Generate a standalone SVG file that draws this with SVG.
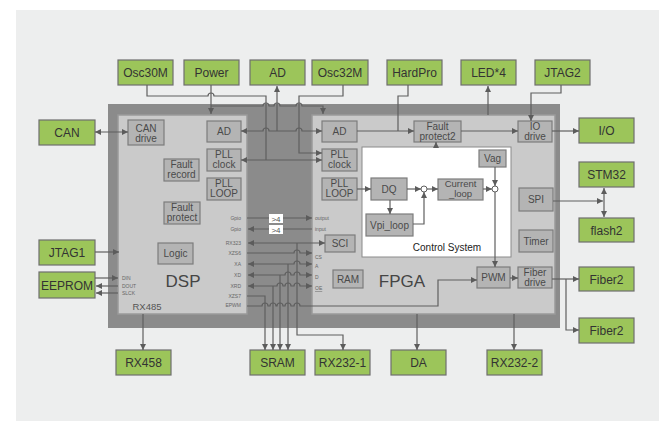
<svg xmlns="http://www.w3.org/2000/svg" width="659" height="421" viewBox="0 0 659 421">
<defs>
<marker id="ah" viewBox="0 0 6 6" refX="6" refY="3" markerWidth="6" markerHeight="6" markerUnits="userSpaceOnUse" orient="auto-start-reverse">
<path d="M0,0 L6,3 L0,6 Z" fill="#5c5c5c"/>
</marker>
<style>
.g{fill:#9CC55A;stroke:#6E6E6E;stroke-width:1.2}
.gt{font-family:"Liberation Sans",Arial,sans-serif;font-size:12px;fill:#333;text-anchor:middle}
.b{fill:#B4B4B4;stroke:#7C7C7C;stroke-width:1.2}
.bt{font-family:"Liberation Sans",Arial,sans-serif;font-size:10px;fill:#4A4A4A;text-anchor:middle}
.sl{font-family:"Liberation Sans",Arial,sans-serif;font-size:5px;fill:#666}
.ln{stroke:#5F5F5F;stroke-width:1.2;fill:none}
.a{marker-end:url(#ah)}
.aa{marker-start:url(#ah);marker-end:url(#ah)}
.big{font-family:"Liberation Sans",Arial,sans-serif;font-size:17px;fill:#454545;text-anchor:middle}
</style>
</defs>
<rect x="0" y="0" width="659" height="421" fill="#FFFFFF"/>
<rect x="16" y="10" width="643" height="411" fill="#EDEEEE"/>
<g id="frame">
<rect x="108" y="104" width="452" height="224" fill="#8B8B8B"/>
</g>
<g id="dsp">
<rect x="118" y="115" width="129" height="199" fill="#CACACA" stroke="#9A9A9A" stroke-width="1.5"/>
<text class="big" x="183" y="287">DSP</text>
<text class="bt" x="147" y="310" style="font-size:9.5px;fill:#555">RX485</text>
</g>
<g id="fpga">
<rect x="312" y="115" width="243" height="199" fill="#CACACA" stroke="#9A9A9A" stroke-width="1.5"/>
<text class="big" x="402" y="287">FPGA</text>
</g>
<g id="control-system">
<rect x="362" y="147" width="149" height="110" fill="#FFFFFF" stroke="#8A8A8A" stroke-width="1"/>
<text class="bt" x="447" y="251" style="fill:#222">Control System</text>
</g>

<g id="osc30m"><rect class="g" x="118" y="60" width="55" height="25"/><text class="gt" x="145.5" y="77">Osc30M</text></g>
<g id="power"><rect class="g" x="184" y="60" width="55" height="25"/><text class="gt" x="211.5" y="77">Power</text></g>
<g id="ad-top"><rect class="g" x="250" y="60" width="55" height="25"/><text class="gt" x="277.5" y="77">AD</text></g>
<g id="osc32m"><rect class="g" x="312" y="60" width="56" height="25"/><text class="gt" x="340" y="77">Osc32M</text></g>
<g id="hardpro"><rect class="g" x="387" y="60" width="55" height="25"/><text class="gt" x="414.5" y="77">HardPro</text></g>
<g id="led4"><rect class="g" x="461" y="60" width="55" height="25"/><text class="gt" x="488.5" y="77">LED*4</text></g>
<g id="jtag2"><rect class="g" x="535" y="60" width="55" height="25"/><text class="gt" x="562.5" y="77">JTAG2</text></g>
<g id="can"><rect class="g" x="39" y="120" width="56" height="25"/><text class="gt" x="67" y="137">CAN</text></g>
<g id="jtag1"><rect class="g" x="39" y="240" width="56" height="25"/><text class="gt" x="67" y="257">JTAG1</text></g>
<g id="eeprom"><rect class="g" x="39" y="272" width="56" height="26"/><text class="gt" x="67" y="289.5">EEPROM</text></g>
<g id="io"><rect class="g" x="579" y="118" width="55" height="25"/><text class="gt" x="606.5" y="135">I/O</text></g>
<g id="stm32"><rect class="g" x="579" y="162" width="55" height="25"/><text class="gt" x="606.5" y="179">STM32</text></g>
<g id="flash2"><rect class="g" x="579" y="218" width="55" height="24"/><text class="gt" x="606.5" y="234.5">flash2</text></g>
<g id="fiber2a"><rect class="g" x="579" y="267" width="55" height="24"/><text class="gt" x="606.5" y="283.5">Fiber2</text></g>
<g id="fiber2b"><rect class="g" x="579" y="318" width="55" height="25"/><text class="gt" x="606.5" y="335">Fiber2</text></g>
<g id="rx458"><rect class="g" x="116" y="350" width="55" height="25"/><text class="gt" x="143.5" y="367">RX458</text></g>
<g id="sram"><rect class="g" x="250" y="350" width="55" height="25"/><text class="gt" x="277.5" y="367">SRAM</text></g>
<g id="rx232-1"><rect class="g" x="315" y="350" width="55" height="25"/><text class="gt" x="342.5" y="367">RX232-1</text></g>
<g id="da"><rect class="g" x="391" y="350" width="55" height="25"/><text class="gt" x="418.5" y="367">DA</text></g>
<g id="rx232-2"><rect class="g" x="487" y="350" width="55" height="25"/><text class="gt" x="514.5" y="367">RX232-2</text></g>

<g id="can-drive"><rect class="b" x="128" y="120" width="36" height="25"/><text class="bt" x="146" y="131.5">CAN</text><text class="bt" x="146" y="141.5">drive</text></g>
<g id="dsp-ad"><rect class="b" x="207" y="121" width="34" height="21"/><text class="bt" x="224" y="135">AD</text></g>
<g id="dsp-pll-clock"><rect class="b" x="207" y="149" width="34" height="22"/><text class="bt" x="224" y="158">PLL</text><text class="bt" x="224" y="168">clock</text></g>
<g id="dsp-pll-loop"><rect class="b" x="207" y="178" width="34" height="22"/><text class="bt" x="224" y="187">PLL</text><text class="bt" x="224" y="197">LOOP</text></g>
<g id="fault-record"><rect class="b" x="164" y="159" width="35" height="22"/><text class="bt" x="181.5" y="168">Fault</text><text class="bt" x="181.5" y="178">record</text></g>
<g id="fault-protect"><rect class="b" x="164" y="202" width="36" height="22"/><text class="bt" x="182" y="211">Fault</text><text class="bt" x="182" y="221">protect</text></g>
<g id="logic"><rect class="b" x="158" y="243" width="35" height="21"/><text class="bt" x="175.5" y="257">Logic</text></g>

<g id="fpga-ad"><rect class="b" x="322" y="121" width="35" height="21"/><text class="bt" x="339.5" y="135">AD</text></g>
<g id="fpga-pll-clock"><rect class="b" x="322" y="149" width="35" height="22"/><text class="bt" x="339.5" y="158">PLL</text><text class="bt" x="339.5" y="168">clock</text></g>
<g id="fpga-pll-loop"><rect class="b" x="322" y="178" width="35" height="22"/><text class="bt" x="339.5" y="187">PLL</text><text class="bt" x="339.5" y="197">LOOP</text></g>
<g id="fault-protect2"><rect class="b" x="414" y="121" width="47" height="21"/><text class="bt" x="437.5" y="130">Fault</text><text class="bt" x="437.5" y="140">protect2</text></g>
<g id="io-drive"><rect class="b" x="518" y="121" width="34" height="21"/><text class="bt" x="535" y="130">IO</text><text class="bt" x="535" y="140">drive</text></g>
<g id="vag"><rect class="b" x="479" y="150" width="27" height="17"/><text class="bt" x="492.5" y="162">Vag</text></g>
<g id="dq"><rect class="b" x="371" y="178" width="36" height="22"/><text class="bt" x="389" y="192.5">DQ</text></g>
<g id="current-loop"><rect class="b" x="438" y="179" width="45" height="21"/><text class="bt" x="460.5" y="187" style="font-size:9.5px">Current</text><text class="bt" x="460.5" y="196.5" style="font-size:9.5px">_loop</text></g>
<g id="vpi-loop"><rect class="b" x="366" y="214" width="47" height="22"/><text class="bt" x="389.5" y="228.5">Vpi_loop</text></g>
<g id="spi"><rect class="b" x="519" y="188" width="34" height="23"/><text class="bt" x="536" y="203">SPI</text></g>
<g id="timer"><rect class="b" x="519" y="230" width="34" height="22"/><text class="bt" x="536" y="244.5">Timer</text></g>
<g id="sci"><rect class="b" x="325" y="235" width="30" height="17"/><text class="bt" x="340" y="247">SCI</text></g>
<g id="ram"><rect class="b" x="333" y="270" width="30" height="18"/><text class="bt" x="348" y="282.5">RAM</text></g>
<g id="pwm"><rect class="b" x="477" y="267" width="33" height="21"/><text class="bt" x="493.5" y="281">PWM</text></g>
<g id="fiber-drive"><rect class="b" x="518" y="267" width="34" height="21"/><text class="bt" x="535" y="276">Fiber</text><text class="bt" x="535" y="286">drive</text></g>

<g id="signal-labels">
<text class="sl" x="241" y="220" text-anchor="end">Gpio</text>
<text class="sl" x="241" y="231" text-anchor="end">Gpio</text>
<text class="sl" x="241" y="245" text-anchor="end">RX323</text>
<text class="sl" x="241" y="255" text-anchor="end">XZS6</text>
<text class="sl" x="241" y="266" text-anchor="end">XA</text>
<text class="sl" x="241" y="277" text-anchor="end">XD</text>
<text class="sl" x="241" y="288" text-anchor="end">XRD</text>
<text class="sl" x="241" y="298" text-anchor="end">XZS7</text>
<text class="sl" x="241" y="307" text-anchor="end">EPWM</text>
<text class="sl" x="315" y="220">output</text>
<text class="sl" x="315" y="231">input</text>
<text class="sl" x="315" y="259">CS</text>
<text class="sl" x="315" y="268">A</text>
<text class="sl" x="315" y="279">D</text>
<text class="sl" x="315" y="290" text-decoration="underline">OE</text>
<text class="sl" x="122" y="280">DIN</text>
<text class="sl" x="122" y="288">DOUT</text>
<text class="sl" x="122" y="295">SLCK</text>
</g>

<g id="connectors">
<path class="ln aa" d="M95,132 H128"/>
<path class="ln" d="M147,85 V96 H208 a3,3 0 0 1 6,0 H266 V160"/>
<path class="ln aa" d="M241,160 H322"/>
<path class="ln a" d="M343,85 V96 H299 V153 H322"/>
<path class="ln a" d="M211,85 V114"/>
<path class="ln a" d="M211,106 H263 a3,3 0 0 1 6,0 H274 a3,3 0 0 1 6,0 H296 a3,3 0 0 1 6,0 H323 V114"/>
<path class="ln a" d="M277,131 V86"/>
<path class="ln aa" d="M241,131 H263 a3,3 0 0 1 6,0 H296 a3,3 0 0 1 6,0 H322"/>
<path class="ln" d="M408,85 V96 H398 V131"/>
<path class="ln a" d="M357,131 H414"/>
<path class="ln a" d="M461,131 H518"/>
<path class="ln a" d="M552,131 H579"/>
<path class="ln a" d="M488,115 V86"/>
<path class="ln a" d="M561,85 V93 H531 V121"/>
<path class="ln a" d="M436,147 V142"/>
<path class="ln a" d="M357,189 H371"/>
<path class="ln a" d="M407,189 H421"/>
<path class="ln a" d="M427,189 H438"/>
<path class="ln a" d="M483,189 H492"/>
<path class="ln a" d="M495,167 V186"/>
<path class="ln a" d="M495,192 V267"/>
<path class="ln a" d="M390,200 V214"/>
<path class="ln a" d="M413,224 H424 V192"/>
<circle cx="424" cy="189" r="3" fill="#FFFFFF" stroke="#5F5F5F" stroke-width="1"/>
<circle cx="495" cy="189" r="3" fill="#FFFFFF" stroke="#5F5F5F" stroke-width="1"/>
<path class="ln a" d="M510,278 H518"/>
<path class="ln a" d="M552,279 H579"/>
<path class="ln a" d="M566,279 V330 H579"/>
<path class="ln a" d="M553,201 H603"/>
<path class="ln aa" d="M604,188 V217"/>
<path class="ln a" d="M143,314 V350"/>
<path class="ln a" d="M417,314 V350"/>
<path class="ln a" d="M514,314 V350"/>
<path class="ln a" d="M95,252 H119"/>
<path class="ln a" d="M95,278 H118"/>
<path class="ln a" d="M118,286 H96"/>
<path class="ln a" d="M118,293 H96"/>
<path class="ln a" d="M247,218 H312"/>
<path class="ln a" d="M312,229 H248"/>
<path class="ln aa" d="M248,243 H325"/>
<path class="ln a" d="M297,243 V335 H343 V350"/>
<path class="ln a" d="M247,253 H294 a3,3 0 0 1 6,0 H312"/>
<path class="ln aa" d="M248,264 H294 a3,3 0 0 1 6,0 H312"/>
<path class="ln a" d="M288,264 V350"/>
<path class="ln aa" d="M248,275 H285 a3,3 0 0 1 6,0 H294 a3,3 0 0 1 6,0 H312"/>
<path class="ln a" d="M280,275 V350"/>
<path class="ln aa" d="M248,286 H277 a3,3 0 0 1 6,0 H285 a3,3 0 0 1 6,0 H294 a3,3 0 0 1 6,0 H312"/>
<path class="ln a" d="M273,286 V350"/>
<path class="ln a" d="M247,296 H265 V350"/>
<path class="ln a" d="M247,306 H262 a3,3 0 0 1 6,0 H270 a3,3 0 0 1 6,0 H277 a3,3 0 0 1 6,0 H285 a3,3 0 0 1 6,0 H294 a3,3 0 0 1 6,0 H438 V280 H477"/>
<rect x="269" y="214" width="14" height="9" fill="#FFFFFF"/>
<text class="sl" x="276" y="221.5" text-anchor="middle" style="font-size:8px;fill:#555">&gt;4</text>
<rect x="269" y="225" width="14" height="9" fill="#FFFFFF"/>
<text class="sl" x="276" y="232.5" text-anchor="middle" style="font-size:8px;fill:#555">&gt;4</text>
</g>
</svg>
